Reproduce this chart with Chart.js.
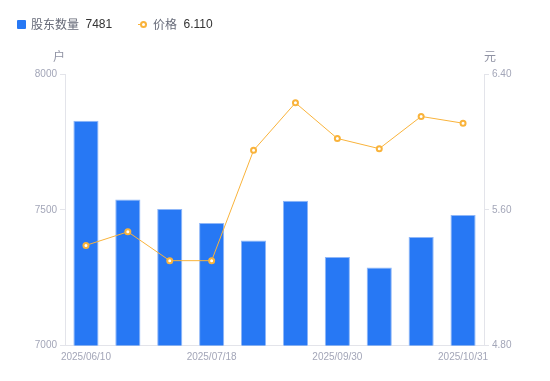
<!DOCTYPE html>
<html>
<head>
<meta charset="utf-8">
<script src="https://cdn.jsdelivr.net/npm/chart.js@4"></script>
<style>
html,body{margin:0;padding:0;background:#fff;}
#wrap{position:relative;width:550px;height:381px;font-family:"Liberation Sans","Noto Sans CJK SC",sans-serif;}
#legend{position:absolute;left:17px;top:15px;height:18px;font-size:12px;line-height:18px;white-space:nowrap;}
#legend span{position:absolute;top:0;}
canvas{position:absolute;left:0;top:0;}
</style>
</head>
<body>
<div id="wrap">
<canvas id="c" width="550" height="381"></canvas>
<div id="legend">
  <span style="left:0;top:5px;width:9px;height:9px;background:#2778f4;border-radius:1px;"></span>
  <span style="left:14px;color:#666a78;font-family:'Noto Sans CJK SC',sans-serif;">股东数量</span>
  <span style="left:68.5px;color:#333;">7481</span>
  <span style="left:121px;top:9px;width:9px;height:1px;background:#f9b33b;"></span>
  <span style="left:122.5px;top:6px;width:3px;height:3px;border:2px solid #f9b33b;border-radius:50%;background:#fff;"></span>
  <span style="left:136px;color:#666a78;font-family:'Noto Sans CJK SC',sans-serif;">价格</span>
  <span style="left:166.5px;color:#333;">6.110</span>
</div>
</div>
<script>
const categories = ["2025/06/10","2025/06/20","2025/06/30","2025/07/18","2025/08/10","2025/08/29","2025/09/30","2025/10/10","2025/10/20","2025/10/31"];
const holders = [7828, 7538, 7503, 7451, 7387, 7533, 7326, 7287, 7400, 7481];
const prices = [5.39, 5.47, 5.30, 5.30, 5.95, 6.23, 6.02, 5.96, 6.15, 6.11];
const leftTicks = [7000, 7500, 8000];
const rightTicks = [4.80, 5.60, 6.40];

const tickColor = '#a3a6b8';
const axisColor = '#e3e4ea';

const unitPlugin = {
  id: 'units',
  afterDraw(chart) {
    const ctx = chart.ctx;
    const a = chart.chartArea;
    ctx.save();
    ctx.font = '12px "Noto Sans CJK SC", sans-serif';
    ctx.fillStyle = '#8f92a3';
    ctx.textAlign = 'center';
    ctx.textBaseline = 'middle';
    ctx.fillText('户', a.left - 6, a.top - 18);
    ctx.fillText('元', a.right + 6, a.top - 18);
    ctx.restore();
  }
};

new Chart(document.getElementById('c'), {
  data: {
    labels: categories,
    datasets: [
      {
        type: 'line',
        label: '价格',
        data: prices,
        yAxisID: 'y1',
        borderColor: '#f9b33b',
        borderWidth: 1,
        pointRadius: 2.5,
        pointBorderWidth: 2,
        pointBackgroundColor: '#fff',
        pointBorderColor: '#f9b33b',
        tension: 0,
        order: 0
      },
      {
        type: 'bar',
        label: '股东数量',
        data: holders,
        yAxisID: 'y',
        backgroundColor: '#2778f4',
        borderColor: '#8fb7f8',
        borderWidth: {top: 1, left: 1, right: 1, bottom: 0},
        borderSkipped: 'bottom',
        categoryPercentage: 0.6,
        barPercentage: 1.0,
        order: 1
      }
    ]
  },
  options: {
    responsive: false,
    animation: false,
    layout: {padding: {top: 74, left: 0, right: 0, bottom: 0}},
    plugins: {legend: {display: false}, tooltip: {enabled: false}},
    scales: {
      x: {
        offset: true,
        grid: {display: false, drawTicks: false},
        border: {display: true, color: axisColor, width: 1},
        ticks: {
          autoSkip: false,
          maxRotation: 0,
          color: tickColor,
          font: {family: 'Liberation Sans', size: 10},
          padding: 6,
          callback: function(v, i) { return i % 3 === 0 ? categories[i] : ''; }
        },
        afterFit(s) { s.height = 35.5; }
      },
      y: {
        position: 'left',
        min: leftTicks[0],
        max: leftTicks[leftTicks.length - 1],
        afterBuildTicks(s) { s.ticks = leftTicks.map(v => ({value: v})); },
        grid: {drawOnChartArea: false, drawTicks: true, tickLength: 5, color: axisColor},
        border: {display: true, color: axisColor},
        ticks: {color: tickColor, font: {family: 'Liberation Sans', size: 10}, padding: 3,
          callback: v => String(v)},
        afterFit(s) { s.width = 65; }
      },
      y1: {
        position: 'right',
        min: rightTicks[0],
        max: rightTicks[rightTicks.length - 1],
        afterBuildTicks(s) { s.ticks = rightTicks.map(v => ({value: v})); },
        grid: {drawOnChartArea: false, drawTicks: true, tickLength: 5, color: axisColor},
        border: {display: true, color: axisColor},
        ticks: {color: tickColor, font: {family: 'Liberation Sans', size: 10}, padding: 3,
          callback: v => Number(v).toFixed(2)},
        afterFit(s) { s.width = 66; }
      }
    }
  },
  plugins: [unitPlugin]
});
</script>
</body>
</html>
